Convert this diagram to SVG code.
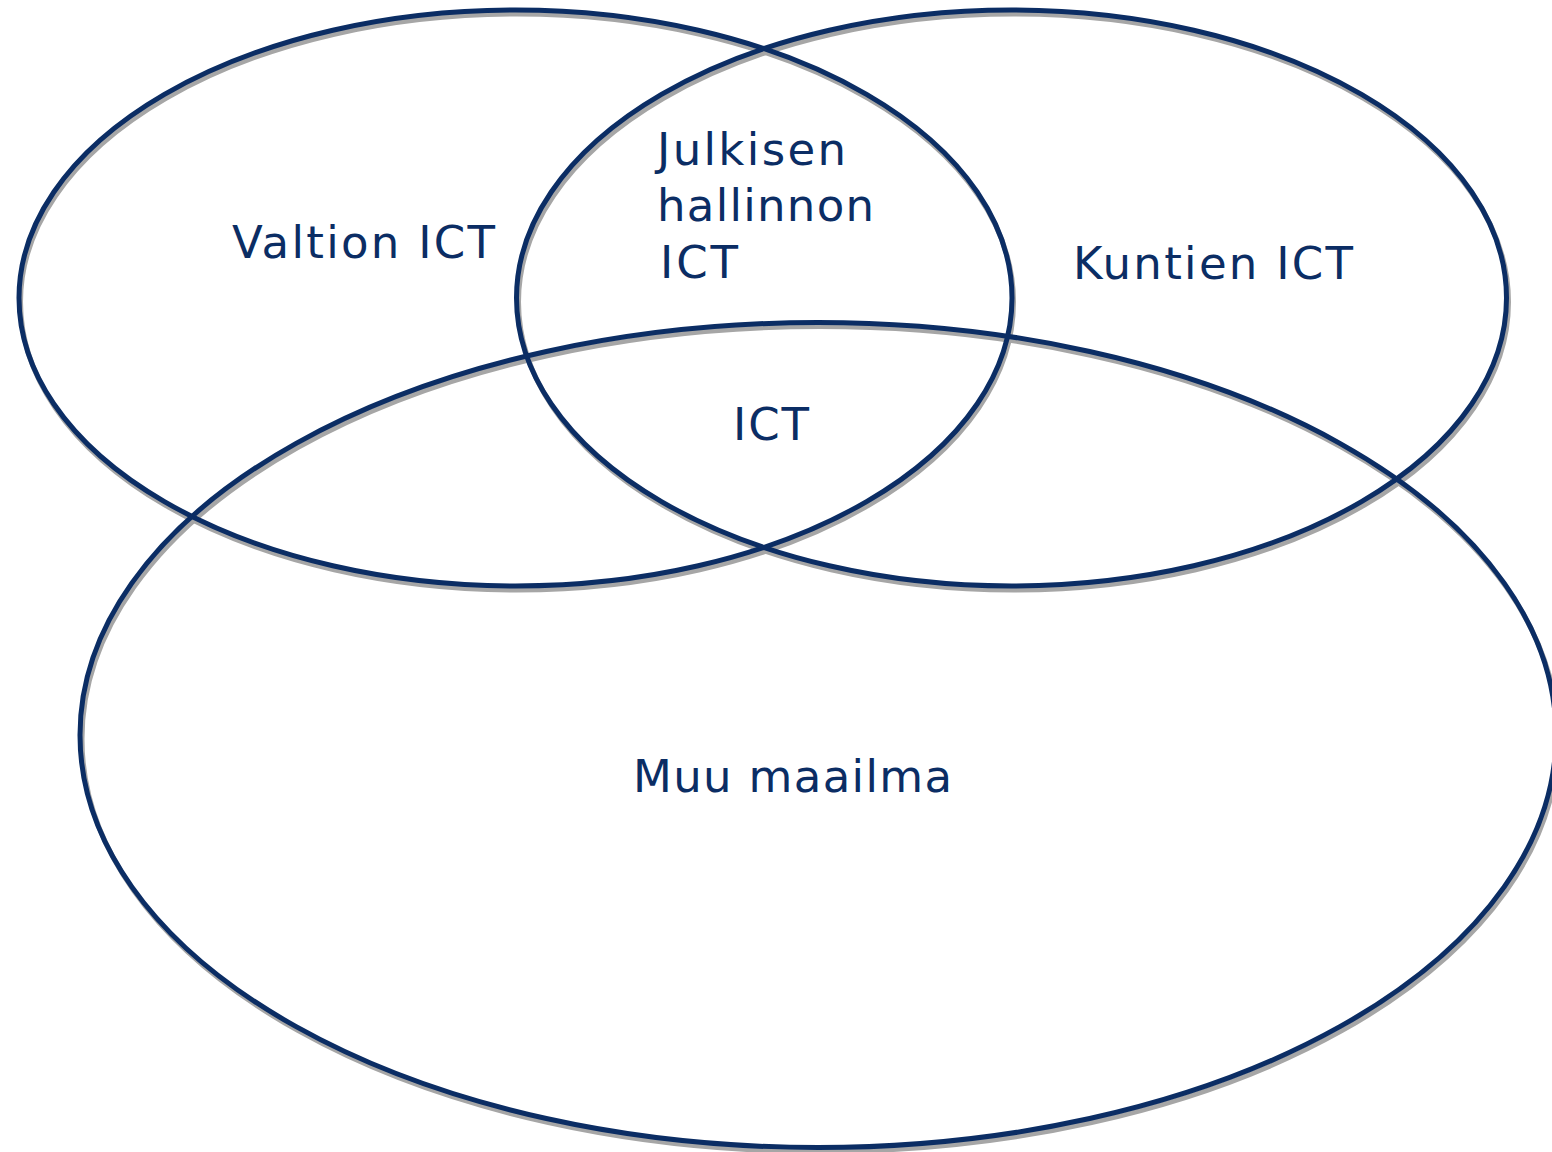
<svg xmlns="http://www.w3.org/2000/svg" width="1552" height="1152" viewBox="0 0 1552 1152">
<style>
.sh{fill:none;stroke:#a6a6a6;stroke-width:5}
.el{fill:none;stroke:#0b2d64;stroke-width:5}
.t{font-family:"DejaVu Sans",Verdana,sans-serif;font-size:45px;fill:#0b2d64}
</style>
<rect width="1552" height="1152" fill="#ffffff"/>
<g id="shadows">
<ellipse class="sh" cx="517" cy="302" rx="496.5" ry="288"/>
<ellipse class="sh" cx="1013.5" cy="302" rx="495" ry="288"/>
<ellipse class="sh" cx="820" cy="739" rx="738" ry="412.5"/>
</g>
<g id="valtion">
<ellipse class="el" cx="515.5" cy="298" rx="496.5" ry="288"/>
<text class="t" x="232" y="258" textLength="263" lengthAdjust="spacing">Valtion ICT</text>
</g>
<g id="kuntien">
<ellipse class="el" cx="1011.5" cy="298" rx="495" ry="288"/>
<text class="t" x="1073" y="279" textLength="280" lengthAdjust="spacing">Kuntien ICT</text>
</g>
<g id="muu">
<ellipse class="el" cx="818" cy="735" rx="738" ry="412.5"/>
<text class="t" x="633" y="792" textLength="319" lengthAdjust="spacing">Muu maailma</text>
</g>
<g id="julkisen">
<text class="t" x="657" y="165" textLength="189" lengthAdjust="spacing">Julkisen</text>
<text class="t" x="657" y="221" textLength="217" lengthAdjust="spacing">hallinnon</text>
<text class="t" x="660" y="278" textLength="78" lengthAdjust="spacing">ICT</text>
</g>
<g id="ict">
<text class="t" x="733" y="440" textLength="76" lengthAdjust="spacing">ICT</text>
</g>
<g id="connectors"/>
</svg>
